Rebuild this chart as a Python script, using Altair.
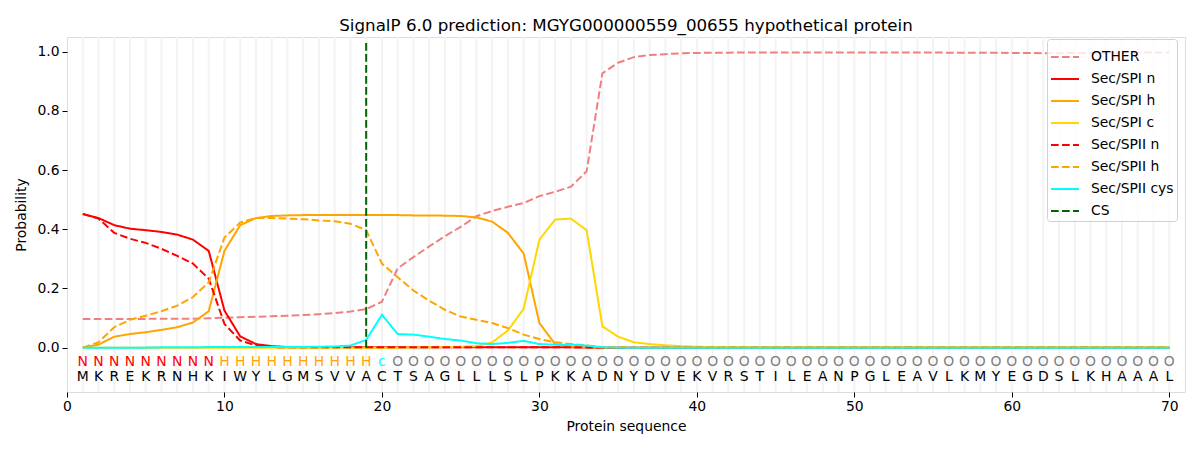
import altair as alt
import pandas as pd

FONT = "DejaVu Sans"

positions = list(range(1, 71))
sequence = "MKREKRNHKIWYLGMSVVACTSAGLLLSLPKKADNYDVEKVRSTILEANPGLEAVLKMYEGDSLKHAAAL"
regions = "NNNNNNNNNHHHHHHHHHHcOOOOOOOOOOOOOOOOOOOOOOOOOOOOOOOOOOOOOOOOOOOOOOOOOO"
cleavage_site = 19

series_names = ["OTHER", "Sec/SPI n", "Sec/SPI h", "Sec/SPI c",
                "Sec/SPII n", "Sec/SPII h", "Sec/SPII cys", "CS"]
series_colors = ["#F08080", "#FF0000", "#FFA500", "#FFD700",
                 "#FF0000", "#FFA500", "#00FFFF", "#006400"]
series_dashed = [True, False, False, False, True, True, False, True]

other = [0.097, 0.097, 0.097, 0.097, 0.097, 0.098, 0.098, 0.098, 0.099, 0.101,
         0.103, 0.104, 0.106, 0.108, 0.110, 0.113, 0.117, 0.122, 0.130, 0.155,
         0.268, 0.306, 0.342, 0.377, 0.408, 0.444, 0.462, 0.476, 0.489, 0.512,
         0.527, 0.544, 0.596, 0.927, 0.963, 0.982, 0.989, 0.992, 0.995, 0.996,
         0.997, 0.997, 0.998, 0.998, 0.998, 0.998, 0.998, 0.998, 0.998, 0.998,
         0.998, 0.998, 0.998, 0.998, 0.998, 0.997, 0.997, 0.997, 0.997, 0.996,
         0.996, 0.995, 0.995, 0.996, 0.996, 0.996, 0.997, 0.997, 0.998, 0.998]
spi_n = [0.452, 0.438, 0.414, 0.402, 0.397, 0.391, 0.382, 0.365, 0.327, 0.125,
         0.038, 0.012, 0.005, 0.002, 0.001, 0.001, 0.001, 0.001, 0.001, 0.001,
         0.001, 0.001, 0.001, 0.001, 0.001, 0.001, 0.001, 0.001, 0.001, 0.001,
         0.001, 0.001, 0.0, 0.0, 0.0, 0.0, 0.0, 0.0, 0.0, 0.0,
         0.0, 0.0, 0.0, 0.0, 0.0, 0.0, 0.0, 0.0, 0.0, 0.0,
         0.0, 0.0, 0.0, 0.0, 0.0, 0.0, 0.0, 0.0, 0.0, 0.0,
         0.0, 0.0, 0.0, 0.0, 0.0, 0.0, 0.0, 0.0, 0.0, 0.0]
spi_h = [0.0, 0.010, 0.037, 0.046, 0.052, 0.060, 0.069, 0.085, 0.123, 0.327,
         0.414, 0.438, 0.445, 0.447, 0.448, 0.448, 0.448, 0.448, 0.448, 0.448,
         0.448, 0.447, 0.447, 0.446, 0.445, 0.440, 0.426, 0.388, 0.318, 0.083,
         0.012, 0.003, 0.001, 0.0, 0.0, 0.0, 0.0, 0.0, 0.0, 0.0,
         0.0, 0.0, 0.0, 0.0, 0.0, 0.0, 0.0, 0.0, 0.0, 0.0,
         0.0, 0.0, 0.0, 0.0, 0.0, 0.0, 0.0, 0.0, 0.0, 0.0,
         0.0, 0.0, 0.0, 0.0, 0.0, 0.0, 0.0, 0.0, 0.0, 0.0]
spi_c = [0.0, 0.0, 0.0, 0.0, 0.0, 0.0, 0.0, 0.0, 0.0, 0.0,
         0.0, 0.0, 0.0, 0.0, 0.0, 0.0, 0.0, 0.0, 0.0, 0.0,
         0.0, 0.001, 0.001, 0.002, 0.003, 0.005, 0.018, 0.058, 0.131, 0.365,
         0.433, 0.436, 0.397, 0.072, 0.037, 0.018, 0.012, 0.008, 0.005, 0.003,
         0.002, 0.002, 0.002, 0.001, 0.001, 0.001, 0.001, 0.001, 0.001, 0.001,
         0.001, 0.001, 0.001, 0.001, 0.001, 0.001, 0.001, 0.001, 0.001, 0.001,
         0.001, 0.001, 0.001, 0.001, 0.001, 0.001, 0.001, 0.001, 0.001, 0.001]
spii_n = [0.452, 0.436, 0.388, 0.368, 0.354, 0.334, 0.310, 0.284, 0.233, 0.080,
          0.024, 0.007, 0.002, 0.001, 0.001, 0.001, 0.001, 0.001, 0.001, 0.001,
          0.001, 0.001, 0.001, 0.001, 0.001, 0.001, 0.001, 0.001, 0.001, 0.001,
          0.001, 0.001, 0.001, 0.0, 0.0, 0.0, 0.0, 0.0, 0.0, 0.0,
          0.0, 0.0, 0.0, 0.0, 0.0, 0.0, 0.0, 0.0, 0.0, 0.0,
          0.0, 0.0, 0.0, 0.0, 0.0, 0.0, 0.0, 0.0, 0.0, 0.0,
          0.0, 0.0, 0.0, 0.0, 0.0, 0.0, 0.0, 0.0, 0.0, 0.0]
spii_h = [0.0, 0.018, 0.069, 0.094, 0.108, 0.123, 0.142, 0.171, 0.221, 0.372,
          0.423, 0.438, 0.438, 0.436, 0.434, 0.430, 0.427, 0.419, 0.397, 0.284,
          0.238, 0.193, 0.159, 0.128, 0.105, 0.094, 0.083, 0.066, 0.044, 0.029,
          0.018, 0.012, 0.007, 0.002, 0.001, 0.0, 0.0, 0.0, 0.0, 0.0,
          0.0, 0.0, 0.0, 0.0, 0.0, 0.0, 0.0, 0.0, 0.0, 0.0,
          0.0, 0.0, 0.0, 0.0, 0.0, 0.0, 0.0, 0.0, 0.0, 0.0,
          0.0, 0.0, 0.0, 0.0, 0.0, 0.0, 0.0, 0.0, 0.0, 0.0]
spii_cys = [0.0, 0.0, 0.0, 0.0, 0.0, 0.001, 0.001, 0.001, 0.002, 0.002,
            0.002, 0.002, 0.002, 0.002, 0.002, 0.003, 0.004, 0.007, 0.026, 0.111,
            0.046, 0.044, 0.037, 0.029, 0.024, 0.015, 0.012, 0.016, 0.023, 0.012,
            0.010, 0.010, 0.007, 0.001, 0.0, 0.0, 0.0, 0.0, 0.0, 0.0,
            0.0, 0.0, 0.0, 0.0, 0.0, 0.0, 0.0, 0.0, 0.0, 0.0,
            0.0, 0.0, 0.0, 0.0, 0.0, 0.0, 0.0, 0.0, 0.0, 0.0,
            0.0, 0.0, 0.0, 0.0, 0.0, 0.0, 0.0, 0.0, 0.0, 0.0]

region_names = ["N", "H", "c", "O"]
region_colors = ["#FF0000", "#FFA500", "#00FFFF", "#808080"]

# ---- tables ----
series_values = [other, spi_n, spi_h, spi_c, spii_n, spii_h, spii_cys]
rows = []
for order, (name, vals) in enumerate(zip(series_names[:7], series_values)):
    for p, v in zip(positions, vals):
        rows.append({"pos": p, "prob": v, "series": name, "order": order})
lines_df = pd.DataFrame(rows)

seq_df = pd.DataFrame({"pos": positions, "aa": list(sequence), "region": list(regions)})
cs_df = pd.DataFrame({"pos": [cleavage_site], "series": ["CS"]})

dash_range = [[7.7, 3.3] if d else [1, 0] for d in series_dashed]

x_scale = alt.Scale(domain=[0, 71], nice=False, zero=False)
y_scale = alt.Scale(domain=[-0.15, 1.05], nice=False, zero=False)

legend = alt.Legend(
    title=None, orient="none", legendX=980, legendY=2,
    fillColor="rgba(255,255,255,0.8)", strokeColor="#d0d0d0", cornerRadius=3,
    padding=3, symbolType="stroke", symbolSize=784, symbolStrokeWidth=2,
    labelFont=FONT, labelFontSize=13.9, labelColor="black",
    rowPadding=-1.5, labelOffset=11, labelLimit=300,
)
color_enc = alt.Color(
    "series:N",
    scale=alt.Scale(domain=series_names, range=series_colors),
    sort=series_names,
    legend=legend,
)
dash_enc = alt.StrokeDash(
    "series:N",
    scale=alt.Scale(domain=series_names, range=dash_range),
    sort=series_names,
    legend=legend,
)

x_axis = alt.Axis(values=[0, 10, 20, 30, 40, 50, 60, 70], title="Protein sequence",
                  grid=False, tickSize=5, tickColor="black", domain=False,
                  labelFont=FONT, labelFontSize=13.9, labelColor="black",
                  labelPadding=2, titleFont=FONT, titleFontSize=13.9,
                  titleFontWeight="normal", titleColor="black", titlePadding=7,
                  labelFlush=False)
y_axis = alt.Axis(values=[0, 0.2, 0.4, 0.6, 0.8, 1.0], format=".1f",
                  title="Probability", grid=False, tickSize=5, tickColor="black",
                  domain=False, labelFont=FONT, labelFontSize=13.9,
                  labelColor="black", labelPadding=3, titleFont=FONT,
                  titleFontSize=13.9, titleFontWeight="normal",
                  titleColor="black", titlePadding=8)

grid = alt.Chart(seq_df).mark_rule(color="#f3f3f3", strokeWidth=2).encode(
    x=alt.X("pos:Q", scale=x_scale, axis=x_axis)
)

lines = alt.Chart(lines_df).mark_line(strokeWidth=2).encode(
    x=alt.X("pos:Q", scale=x_scale, axis=x_axis),
    y=alt.Y("prob:Q", scale=y_scale, axis=y_axis),
    color=color_enc,
    strokeDash=dash_enc,
    order="order:Q",
)

cs = alt.Chart(cs_df).mark_rule(strokeWidth=2).encode(
    x=alt.X("pos:Q", scale=x_scale),
    y=alt.datum(0.0),
    y2=alt.datum(1.04),
    color=color_enc,
    strokeDash=dash_enc,
)

region_layers = []
for rname, rcolor in zip(region_names, region_colors):
    region_layers.append(
        alt.Chart(seq_df).transform_filter(alt.datum.region == rname)
        .mark_text(font=FONT, fontSize=13.9, baseline="middle", color=rcolor)
        .encode(
            x=alt.X("pos:Q", scale=x_scale),
            y=alt.datum(-0.047),
            text="region:N",
        )
    )
aa_text = alt.Chart(seq_df).mark_text(font=FONT, fontSize=13.9, baseline="middle",
                                      color="black").encode(
    x=alt.X("pos:Q", scale=x_scale),
    y=alt.datum(-0.098),
    text="aa:N",
)

chart = alt.layer(
    grid, lines, cs, *region_layers, aa_text,
).properties(
    width=1118, height=355,
    title=alt.Title("SignalP 6.0 prediction: MGYG000000559_00655 hypothetical protein",
                    font=FONT, fontSize=16.7, fontWeight="normal", color="black",
                    anchor="middle", offset=1),
    autosize=alt.AutoSizeParams(type="none"),
    padding={"left": 59, "top": 29, "right": 7, "bottom": 50},
).configure_view(stroke="black", strokeWidth=1.2).configure(background="white")

chart.save("out.html", embed_options={"renderer": "svg", "actions": False})
